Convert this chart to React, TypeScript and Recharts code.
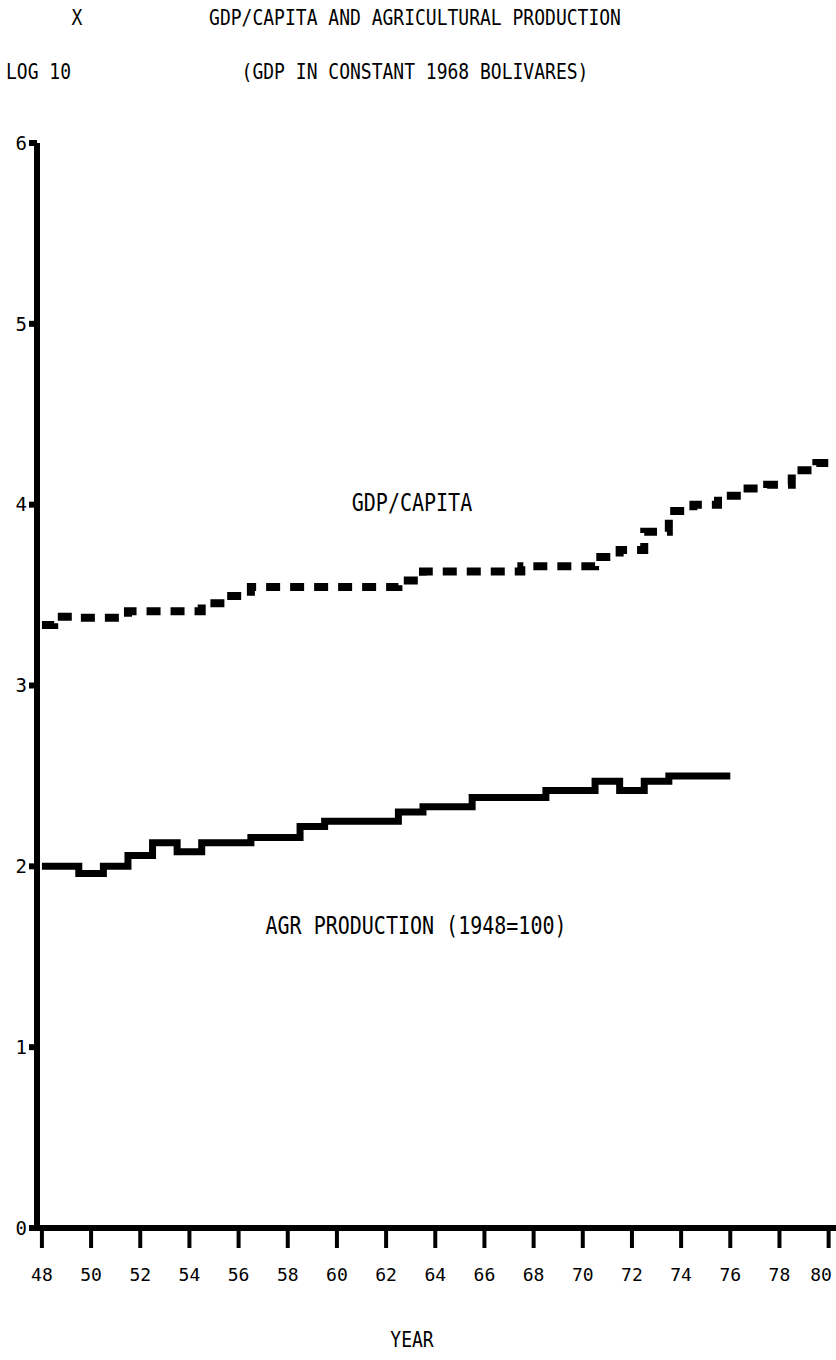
import React from 'react';
import { LineChart, Line, XAxis, YAxis } from 'recharts';

// years 1948..1980, values are log10
const years = [
  1948, 1949, 1950, 1951, 1952, 1953, 1954, 1955, 1956, 1957, 1958,
  1959, 1960, 1961, 1962, 1963, 1964, 1965, 1966, 1967, 1968, 1969,
  1970, 1971, 1972, 1973, 1974, 1975, 1976, 1977, 1978, 1979, 1980,
];

const gdpPerCapita = [
  3.335, 3.38, 3.375, 3.375, 3.41, 3.41, 3.41, 3.455, 3.495, 3.545, 3.545,
  3.545, 3.545, 3.545, 3.545, 3.58, 3.63, 3.63, 3.63, 3.63, 3.66, 3.66,
  3.66, 3.71, 3.75, 3.85, 3.965, 4.0, 4.05, 4.09, 4.11, 4.19, 4.23,
];

// agricultural production index (1948=100), only up to 1976
const agrProduction = [
  2.0, 2.0, 1.96, 2.0, 2.06, 2.13, 2.08, 2.13, 2.13, 2.16, 2.16,
  2.22, 2.25, 2.25, 2.25, 2.3, 2.33, 2.33, 2.38, 2.38, 2.38, 2.42,
  2.42, 2.47, 2.42, 2.47, 2.5, 2.5, 2.5,
];

const yearTicks = [48, 50, 52, 54, 56, 58, 60, 62, 64, 66, 68, 70, 72, 74, 76, 78, 80];
const logTicks = [0, 1, 2, 3, 4, 5, 6];

const chartData = years.map((year, i) => ({
  year: year - 1900,
  gdp: gdpPerCapita[i],
  agr: i < agrProduction.length ? agrProduction[i] : null,
}));

const mono = '"DejaVu Sans Mono", "Liberation Mono", monospace';

const textStyle = (x: number, y: number, size: number, anchor: 'left' | 'center' = 'center'): React.CSSProperties => ({
  position: 'absolute',
  left: x,
  top: y,
  transform: anchor === 'center' ? 'translate(-50%, -50%) scaleY(1.2)' : 'translate(0, -50%) scaleY(1.2)',
  fontFamily: mono,
  fontSize: size,
  lineHeight: 1,
  whiteSpace: 'nowrap',
  color: '#000',
});

// keep the last year label inside the page
const YearTick = (props: any) => {
  const { x, y, payload } = props;
  const shift = payload.value === 80 ? -7 : 0;
  return (
    <text x={x + shift} y={y} dy="0.71em" textAnchor="middle" fill="#000" fontSize={18} fontFamily={mono}>
      {payload.value}
    </text>
  );
};

export default function App() {
  return (
    <div style={{ position: 'relative', width: 836, height: 1360, background: '#fff' }}>
      <style>{'body{margin:0}'}</style>

      <div style={textStyle(77, 18, 18)}>X</div>
      <div style={textStyle(415, 18, 18)}>GDP/CAPITA AND AGRICULTURAL PRODUCTION</div>
      <div style={textStyle(6, 72, 18, 'left')}>LOG 10</div>
      <div style={textStyle(415, 72, 18)}>(GDP IN CONSTANT 1968 BOLIVARES)</div>

      <LineChart
        width={836}
        height={1360}
        data={chartData}
        margin={{ top: 143, right: 0, bottom: 0, left: 0 }}
      >
        <XAxis
          dataKey="year"
          type="number"
          domain={[47.8, 80.3]}
          ticks={yearTicks}
          allowDataOverflow
          height={132}
          axisLine={{ stroke: '#000', strokeWidth: 6 }}
          tickLine={{ stroke: '#000', strokeWidth: 4 }}
          tickSize={20}
          tickMargin={20}
          tick={<YearTick />}
        />
        <YAxis
          type="number"
          domain={[0, 6]}
          ticks={logTicks}
          width={37}
          axisLine={{ stroke: '#000', strokeWidth: 6 }}
          tickLine={{ stroke: '#000', strokeWidth: 6 }}
          tickSize={8}
          tickMargin={2}
          tick={{ fill: '#000', fontSize: 19, fontFamily: mono }}
        />
        <Line
          type="step"
          dataKey="gdp"
          stroke="#000"
          strokeWidth={8}
          strokeDasharray="14 10"
          dot={false}
          isAnimationActive={false}
        />
        <Line
          type="step"
          dataKey="agr"
          stroke="#000"
          strokeWidth={7}
          dot={false}
          isAnimationActive={false}
        />
      </LineChart>

      <div style={textStyle(412, 503, 20)}>GDP/CAPITA</div>
      <div style={textStyle(416, 926, 20)}>AGR PRODUCTION (1948=100)</div>
      <div style={textStyle(412, 1340, 18)}>YEAR</div>
    </div>
  );
}
